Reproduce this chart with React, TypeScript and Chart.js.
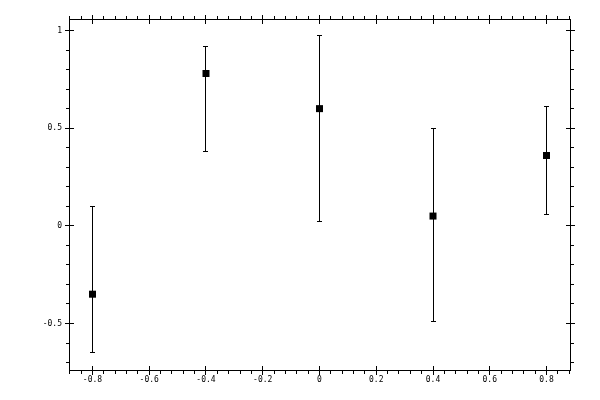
import React, { useEffect, useRef } from "react";
import { Chart, registerables } from "chart.js";

Chart.register(...registerables);

// ---- data ----
const xValues = [-0.8, -0.4, 0, 0.4, 0.8];
const yValues = [-0.35, 0.78, 0.6, 0.05, 0.36];
const yHigh = [0.1, 0.92, 0.975, 0.5, 0.61];
const yLow = [-0.65, 0.38, 0.02, -0.49, 0.06];

const xTickLabels = [-0.8, -0.6, -0.4, -0.2, 0, 0.2, 0.4, 0.6, 0.8];
const yTickLabels = [-0.5, 0, 0.5, 1];
const xMinorStep = 0.04;
const yMinorStep = 0.1;

const X_MIN = -0.8828;
const X_MAX = 0.8828;
const Y_MIN = -0.7381;
const Y_MAX = 1.0589;

const FONT = { family: "'DejaVu Sans Mono', monospace", size: 8 };

function minorValues(min: number, max: number, step: number): number[] {
  const out: number[] = [];
  const start = Math.ceil(min / step - 1e-9);
  const end = Math.floor(max / step + 1e-9);
  for (let i = start; i <= end; i++) out.push(+(i * step).toFixed(6));
  return out;
}

const errorBarPlugin = {
  id: "errorBars",
  beforeDatasetsDraw(chart: any) {
    const ctx = chart.ctx;
    const xs = chart.scales.x;
    const ys = chart.scales.y;
    ctx.save();
    ctx.strokeStyle = "#000";
    ctx.lineWidth = 1;
    ctx.beginPath();
    for (let i = 0; i < xValues.length; i++) {
      const px = Math.round(xs.getPixelForValue(xValues[i]) - 0.5) + 0.5;
      const pHi = Math.round(ys.getPixelForValue(yHigh[i]) - 0.5) + 0.5;
      const pLo = Math.round(ys.getPixelForValue(yLow[i]) - 0.5) + 0.5;
      ctx.moveTo(px, pHi);
      ctx.lineTo(px, pLo);
      ctx.moveTo(px - 2.5, pHi);
      ctx.lineTo(px + 2.5, pHi);
      ctx.moveTo(px - 2.5, pLo);
      ctx.lineTo(px + 2.5, pLo);
    }
    ctx.stroke();
    ctx.restore();
  },
};

const tickMarksPlugin = {
  id: "tickMarks",
  afterDraw(chart: any) {
    const ctx = chart.ctx;
    const { left, right, top, bottom } = chart.chartArea;
    const xs = chart.scales.x;
    const ys = chart.scales.y;
    const l = Math.round(left) + 0.5;
    const r = Math.round(right) + 0.5;
    const t = Math.round(top) + 0.5;
    const b = Math.round(bottom) + 0.5;
    const isMajor = (v: number, majors: number[]) =>
      majors.some((m) => Math.abs(m - v) < 1e-6);
    ctx.save();
    ctx.strokeStyle = "#000";
    ctx.lineWidth = 1;
    ctx.beginPath();
    for (const v of minorValues(X_MIN, X_MAX, xMinorStep)) {
      const px = Math.round(xs.getPixelForValue(v) - 0.5) + 0.5;
      if (isMajor(v, xTickLabels)) {
        ctx.moveTo(px, b - 4.5);
        ctx.lineTo(px, b + 4.5);
        ctx.moveTo(px, t - 4.5);
        ctx.lineTo(px, t + 4.5);
      } else {
        ctx.moveTo(px, b);
        ctx.lineTo(px, b + 3.5);
        ctx.moveTo(px, t);
        ctx.lineTo(px, t - 3.5);
      }
    }
    for (const v of minorValues(Y_MIN, Y_MAX, yMinorStep)) {
      const py = Math.round(ys.getPixelForValue(v) - 0.5) + 0.5;
      if (isMajor(v, yTickLabels)) {
        ctx.moveTo(l - 4.5, py);
        ctx.lineTo(l + 4.5, py);
        ctx.moveTo(r - 4.5, py);
        ctx.lineTo(r + 4.5, py);
      } else {
        ctx.moveTo(l, py);
        ctx.lineTo(l - 3.5, py);
        ctx.moveTo(r, py);
        ctx.lineTo(r + 3.5, py);
      }
    }
    ctx.stroke();
    ctx.restore();
  },
};

export default function App() {
  const canvasRef = useRef<HTMLCanvasElement | null>(null);

  useEffect(() => {
    if (!canvasRef.current) return;
    const chart = new Chart(canvasRef.current, {
      type: "scatter",
      data: {
        datasets: [
          {
            data: xValues.map((x, i) => ({ x, y: yValues[i] })),
            pointStyle: "rect",
            pointRadius: 4.95,
            pointBackgroundColor: "#000",
            pointBorderWidth: 0,
            pointBorderColor: "#000",
          },
        ],
      },
      options: {
        animation: false,
        responsive: false,
        devicePixelRatio: 1,
        layout: { padding: 0 },
        plugins: {
          legend: { display: false },
          tooltip: { enabled: false },
        },
        scales: {
          x: {
            type: "linear",
            position: "bottom",
            min: X_MIN,
            max: X_MAX,
            grid: { display: false, drawTicks: false },
            border: { display: true, color: "#000", width: 1 },
            ticks: {
              color: "#000",
              font: FONT,
              padding: 5,
              autoSkip: false,
              maxRotation: 0,
              callback: (v: any) => String(v),
            },
            afterBuildTicks: (scale: any) => {
              scale.ticks = xTickLabels.map((value) => ({ value }));
            },
            afterFit: (scale: any) => {
              scale.height = 30;
            },
          },
          x2: {
            type: "linear",
            axis: "x",
            position: "top",
            min: X_MIN,
            max: X_MAX,
            grid: { display: false, drawTicks: false },
            border: { display: true, color: "#000", width: 1 },
            ticks: { display: false },
            afterFit: (scale: any) => {
              scale.height = 19;
            },
          },
          y: {
            type: "linear",
            position: "left",
            min: Y_MIN,
            max: Y_MAX,
            grid: { display: false, drawTicks: false },
            border: { display: true, color: "#000", width: 1 },
            ticks: {
              color: "#000",
              font: FONT,
              padding: 7,
              autoSkip: false,
              callback: (v: any) => String(v),
            },
            afterBuildTicks: (scale: any) => {
              scale.ticks = yTickLabels.map((value) => ({ value }));
            },
            afterFit: (scale: any) => {
              scale.width = 69;
            },
          },
          y2: {
            type: "linear",
            axis: "y",
            position: "right",
            min: Y_MIN,
            max: Y_MAX,
            grid: { display: false, drawTicks: false },
            border: { display: true, color: "#000", width: 1 },
            ticks: { display: false },
            afterFit: (scale: any) => {
              scale.width = 30;
            },
          },
        },
      } as any,
      plugins: [errorBarPlugin, tickMarksPlugin],
    });
    return () => chart.destroy();
  }, []);

  return (
    <div
      style={{
        position: "fixed",
        left: 0,
        top: 0,
        width: 600,
        height: 400,
        background: "#fff",
      }}
    >
      <canvas
        ref={canvasRef}
        width={600}
        height={400}
        style={{ display: "block", width: 600, height: 400 }}
      />
    </div>
  );
}
